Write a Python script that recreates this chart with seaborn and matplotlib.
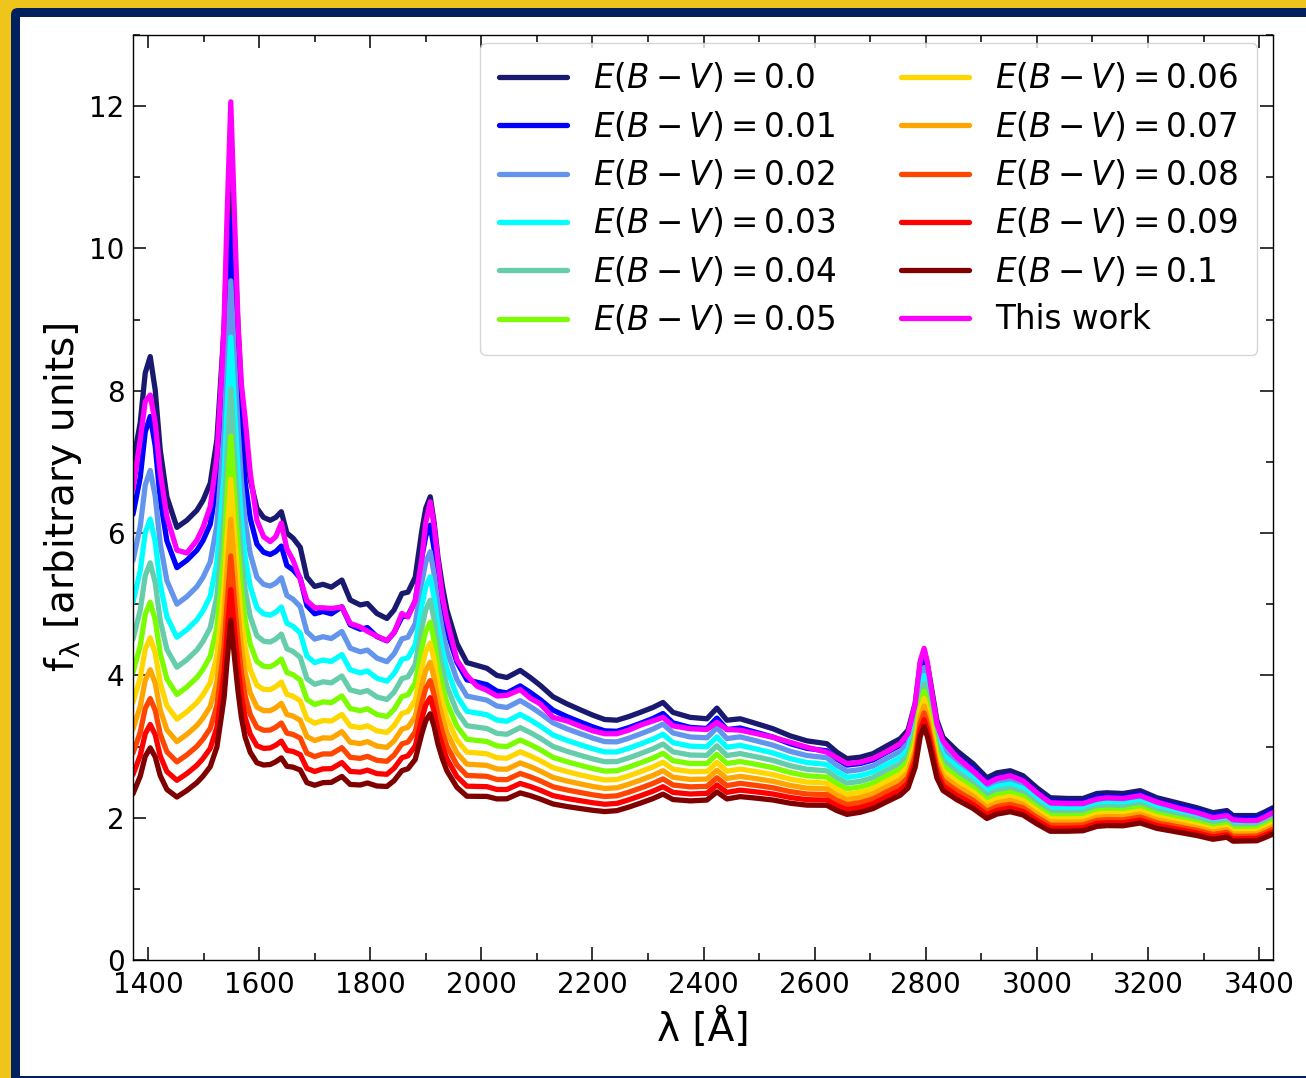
import numpy as np
import pandas as pd
import seaborn as sns
import matplotlib
matplotlib.use("Agg")
import matplotlib.pyplot as plt
from matplotlib.patches import Rectangle, FancyBboxPatch
from matplotlib.transforms import IdentityTransform
from matplotlib.ticker import MultipleLocator

# Rest-frame wavelength grid [Angstrom]
wave = [1373, 1386, 1395, 1404, 1413, 1422, 1434, 1452, 1470, 1488, 1499, 1512,
        1524, 1533, 1537, 1542, 1549, 1556, 1562, 1568, 1575, 1584, 1596, 1608,
        1620, 1630, 1640, 1650, 1661, 1674, 1686, 1700, 1715, 1730, 1749, 1764,
        1782, 1795, 1812, 1830, 1843, 1857, 1868, 1881, 1893, 1900, 1908, 1915,
        1922, 1930, 1938, 1956, 1974, 1992, 2010, 2028, 2046, 2058, 2070, 2088,
        2106, 2129, 2154, 2180, 2201, 2222, 2244, 2265, 2286, 2309, 2327, 2345,
        2376, 2406, 2424, 2442, 2466, 2496, 2525, 2556, 2586, 2622, 2640, 2658,
        2682, 2705, 2730, 2754, 2768, 2781, 2790, 2797, 2803, 2808, 2820, 2831,
        2856, 2885, 2910, 2928, 2952, 2975, 3000, 3024, 3055, 3083, 3108, 3126,
        3155, 3186, 3216, 3252, 3288, 3317, 3342, 3353, 3375, 3396, 3410, 3425]

# Unreddened composite, E(B-V) = 0
flux_ebv0 = [6.99, 7.55, 8.25, 8.48, 8.01, 7.17, 6.51, 6.08, 6.18, 6.32, 6.46, 6.70,
             7.31, 8.40, 8.90, 10.00, 11.35, 10.00, 8.90, 8.00, 7.30, 6.75, 6.35, 6.22,
             6.18, 6.22, 6.30, 6.00, 5.93, 5.80, 5.38, 5.25, 5.28, 5.24, 5.34, 5.06,
             4.99, 5.01, 4.87, 4.80, 4.92, 5.15, 5.17, 5.38, 6.04, 6.35, 6.51, 6.15,
             5.66, 5.25, 4.92, 4.45, 4.18, 4.14, 4.10, 4.00, 3.97, 4.02, 4.07, 3.97,
             3.86, 3.70, 3.60, 3.51, 3.44, 3.38, 3.37, 3.42, 3.48, 3.55, 3.62, 3.48,
             3.41, 3.39, 3.54, 3.37, 3.39, 3.32, 3.25, 3.15, 3.08, 3.04, 2.92, 2.83,
             2.85, 2.90, 3.01, 3.11, 3.23, 3.61, 4.17, 4.35, 4.15, 3.93, 3.37, 3.13,
             2.94, 2.76, 2.56, 2.63, 2.66, 2.59, 2.42, 2.28, 2.27, 2.27, 2.34, 2.35,
             2.34, 2.38, 2.28, 2.21, 2.14, 2.07, 2.10, 2.03, 2.03, 2.03, 2.08, 2.14]

# Composite spectrum from this work
flux_this_work = [6.61, 7.31, 7.85, 7.94, 7.55, 6.85, 6.23, 5.76, 5.72, 5.90, 6.08, 6.37,
                  7.07, 8.30, 8.96, 10.37, 12.06, 10.37, 8.96, 8.10, 7.60, 6.85, 6.18, 5.95,
                  5.88, 5.95, 6.14, 5.78, 5.62, 5.35, 5.05, 4.95, 4.95, 4.94, 4.96, 4.73,
                  4.68, 4.62, 4.55, 4.49, 4.60, 4.87, 4.82, 5.05, 5.65, 6.15, 6.44, 6.10,
                  5.60, 5.10, 4.78, 4.22, 4.00, 3.85, 3.79, 3.71, 3.72, 3.76, 3.80, 3.68,
                  3.60, 3.41, 3.36, 3.28, 3.22, 3.18, 3.18, 3.23, 3.30, 3.36, 3.41, 3.29,
                  3.25, 3.24, 3.34, 3.24, 3.23, 3.18, 3.13, 3.06, 2.99, 2.92, 2.84, 2.76,
                  2.78, 2.83, 2.93, 3.04, 3.18, 3.60, 4.20, 4.38, 4.18, 3.90, 3.32, 3.08,
                  2.85, 2.66, 2.48, 2.55, 2.59, 2.52, 2.35, 2.21, 2.20, 2.20, 2.26, 2.28,
                  2.27, 2.31, 2.22, 2.14, 2.07, 2.00, 2.03, 1.97, 1.96, 1.96, 2.01, 2.07]

# Extinction curve k(lambda) = A_lambda / E(B-V), relative to the normalisation
k_lambda = [11.90, 11.65, 11.50, 11.35, 11.20, 11.05, 10.85, 10.60, 10.35, 10.10, 9.95, 9.80,
            9.70, 9.60, 9.55, 9.50, 9.40, 9.35, 9.30, 9.25, 9.20, 9.10, 9.00, 8.90,
            8.80, 8.72, 8.65, 8.58, 8.50, 8.42, 8.35, 8.25, 8.15, 8.05, 7.90, 7.80,
            7.68, 7.60, 7.48, 7.35, 7.26, 7.17, 7.10, 7.02, 6.95, 6.90, 6.86, 6.82,
            6.78, 6.73, 6.68, 6.58, 6.48, 6.38, 6.28, 6.18, 6.09, 6.03, 5.97, 5.88,
            5.80, 5.68, 5.56, 5.44, 5.34, 5.24, 5.14, 5.05, 4.96, 4.86, 4.78, 4.71,
            4.58, 4.46, 4.39, 4.32, 4.23, 4.11, 4.00, 3.88, 3.77, 3.64, 3.58, 3.52,
            3.44, 3.36, 3.28, 3.20, 3.15, 3.11, 3.08, 3.06, 3.04, 3.03, 2.99, 2.96,
            2.89, 2.81, 2.74, 2.70, 2.65, 2.60, 2.55, 2.51, 2.46, 2.42, 2.39, 2.37,
            2.34, 2.30, 2.27, 2.23, 2.19, 2.16, 2.13, 2.12, 2.10, 2.08, 2.07, 2.06]

ebv_values = [0.0, 0.01, 0.02, 0.03, 0.04, 0.05, 0.06, 0.07, 0.08, 0.09, 0.1]
ebv_colors = ["#191970", "#0000FF", "#6495ED", "#00FFFF", "#66CDAA", "#7CFC00",
              "#FFD700", "#FFA500", "#FF4500", "#FF0000", "#800000"]
this_work_color = "#FF00FF"

W, H, DPI = 1306, 1078, 100
sns.set_style("ticks")
plt.rcParams["font.family"] = ["DejaVu Sans"]
plt.rcParams.update({"text.color": "black", "axes.labelcolor": "black",
                     "xtick.color": "black", "ytick.color": "black",
                     "axes.edgecolor": "black"})

fig = plt.figure(figsize=(W / DPI, H / DPI), dpi=DPI)

# Border: gold background, navy rounded frame, white panel
fig.patch.set_facecolor("#EFC41B")
ident = IdentityTransform()
fig.patches.append(FancyBboxPatch((11, -40), W + 40, H - 8 + 40,
                                  boxstyle="round,pad=0,rounding_size=7",
                                  facecolor="#002060", edgecolor="none",
                                  transform=ident, figure=fig, zorder=-3))
fig.patches.append(Rectangle((20, 2), W, H - 17 - 2, facecolor="white",
                             edgecolor="none", transform=ident, figure=fig,
                             zorder=-2))

ax = fig.add_axes([133 / W, 1 - 960 / H, (1273 - 133) / W, (960 - 35) / H])

wave_arr = np.asarray(wave, dtype=float)
f0 = np.asarray(flux_ebv0, dtype=float)
k_arr = np.asarray(k_lambda, dtype=float)

LW = 3.8
for ebv, col in zip(ebv_values, ebv_colors):
    reddened = f0 * 10 ** (-0.4 * k_arr * ebv)
    df = pd.DataFrame({"wave": wave_arr, "flux": reddened})
    sns.lineplot(data=df, x="wave", y="flux", color=col, lw=LW, sort=False,
                 estimator=None, label=f"$E(B-V) = {ebv}$", ax=ax)

df_tw = pd.DataFrame({"wave": wave_arr, "flux": flux_this_work})
sns.lineplot(data=df_tw, x="wave", y="flux", color=this_work_color, lw=LW,
             sort=False, estimator=None, label="This work", ax=ax)

ax.set_xlim(1373, 3425)
ax.set_ylim(0, 13)
ax.xaxis.set_major_locator(MultipleLocator(200))
ax.xaxis.set_minor_locator(MultipleLocator(100))
ax.yaxis.set_major_locator(MultipleLocator(2))
ax.yaxis.set_minor_locator(MultipleLocator(1))
ax.tick_params(which="both", direction="in", top=True, right=True,
               labelsize=20)
ax.tick_params(axis="x", which="both", pad=8)
ax.tick_params(axis="y", which="both", pad=6)
ax.tick_params(which="major", length=9.5, width=1.1)
ax.tick_params(which="minor", length=5, width=1.1)
for sp in ax.spines.values():
    sp.set_linewidth(1.0)

ax.set_xlabel("λ [Å]", fontsize=28, labelpad=6)
ax.set_ylabel(r"f$_{\mathregular{\lambda}}$ [arbitrary units]", fontsize=28)

leg = ax.legend(ncol=2, loc="upper right", bbox_to_anchor=(0.986, 0.9914),
                borderaxespad=0, fontsize=23.5, labelspacing=0.44,
                borderpad=0.56, handlelength=2.1, columnspacing=1.95,
                handletextpad=0.8)
for line in leg.get_lines():
    line.set_linewidth(LW)

fig.savefig("out.png", dpi=DPI, facecolor=fig.get_facecolor())
